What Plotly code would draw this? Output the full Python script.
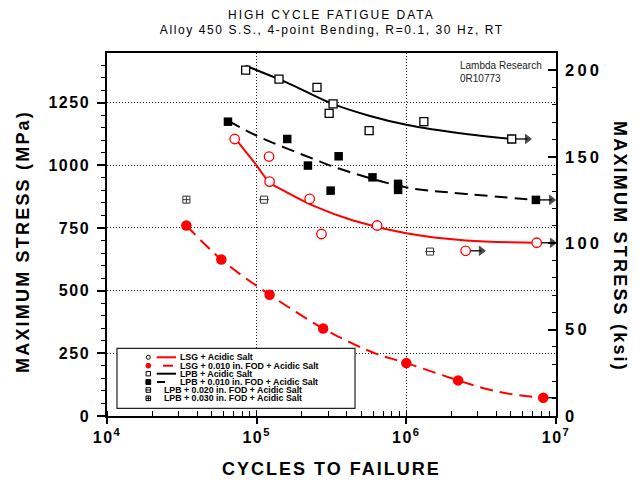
import numpy as np
import plotly.graph_objects as go

# ---------------- data ----------------
MPA_PER_KSI = 6.895
Y_MAX_MPA = 1448
RUNOUT_FACTOR = 10 ** 0.105   # arrow length on the log axis (style)

# LSG + Acidic Salt (open red circles)
lsg_n = [71.3e3, 121e3, 122e3, 226e3, 271e3, 638e3, 2.49e6, 7.43e6]
lsg_s = [1105, 1035, 935, 866, 726, 760, 659, 691]
lsg_runout = [0, 0, 0, 0, 0, 0, 1, 1]
lsg_fit_n = [71.3e3, 100e3, 122e3, 158e3, 238e3, 441e3, 1.0e6, 2.5e6, 7.43e6]
lsg_fit_s = [1109, 999, 932, 893, 839, 780, 729, 700, 691]

# LSG + 0.010 in. FOD + Acidic Salt (filled red circles)
lsgf_n = [33.9e3, 58.1e3, 122e3, 278e3, 1.0e6, 2.22e6, 8.22e6]
lsgf_s = [760, 624, 484, 349, 211, 142, 73]
lsgf_runout = [0, 0, 0, 0, 0, 0, 1]
lsgf_fit_n = [33.9e3, 58.1e3, 122e3, 278e3, 441e3, 631e3, 1.0e6, 2.22e6, 3.44e6, 5.18e6, 8.22e6]
lsgf_fit_s = [760, 624, 484, 349, 288, 248, 211, 142, 108, 86, 73]

# LPB + Acidic Salt (open black squares)
lpb_n = [84.4e3, 141e3, 253e3, 324e3, 305e3, 564e3, 1.31e6, 5.06e6]
lpb_s = [1380, 1344, 1311, 1245, 1207, 1138, 1174, 1105]
lpb_runout = [0, 0, 0, 0, 0, 0, 0, 1]
lpb_fit_n = [84.4e3, 158e3, 322e3, 564e3, 1.0e6, 2.5e6, 5.06e6]
lpb_fit_s = [1397, 1331, 1245, 1198, 1162, 1125, 1105]

# LPB + 0.010 in. FOD + Acidic Salt (filled black squares)
lpbf_n = [64.3e3, 160e3, 220e3, 353e3, 594e3, 881e3, 881e3, 312e3, 7.34e6]
lpbf_s = [1174, 1105, 999, 1036, 952, 926, 902, 899, 862]
lpbf_runout = [0, 0, 0, 0, 0, 0, 0, 0, 1]
lpbf_fit_n = [64.3e3, 100e3, 238e3, 359e3, 1.0e6, 2.5e6, 7.34e6]
lpbf_fit_s = [1178, 1118, 1026, 986, 912, 886, 862]

# LPB + 0.020 in. FOD + Acidic Salt
lpb20_n = [112e3, 1.44e6]
lpb20_s = [863, 656]

# LPB + 0.030 in. FOD + Acidic Salt
lpb30_n = [33.9e3]
lpb30_s = [863]

x_tick_vals = [1e4, 1e5, 1e6, 1e7]
x_tick_text = ["10<sup>4</sup>", "10<sup>5</sup>", "10<sup>6</sup>", "10<sup>7</sup>"]
y_tick_vals = [0, 250, 500, 750, 1000, 1250]
y2_tick_vals = [0, 50, 100, 150, 200]

legend_labels = [
    "LSG + Acidic Salt",
    "LSG + 0.010 in. FOD + Acidic Salt",
    "LPB + Acidic Salt",
    "LPB + 0.010 in. FOD + Acidic Salt",
    "LPB + 0.020 in. FOD + Acidic Salt",
    "LPB + 0.030 in. FOD + Acidic Salt",
]

RED = "#ff0000"
BLACK = "#000000"
FONT = 'Arial, "Liberation Sans", sans-serif'

fig = go.Figure()


def add_curve(n, s, color, dash):
    fig.add_trace(go.Scatter(
        x=n, y=s, mode="lines", showlegend=False, hoverinfo="skip",
        line=dict(color=color, width=2, dash=dash, shape="spline", smoothing=1.0)))


add_curve(lsg_fit_n, lsg_fit_s, RED, "solid")
add_curve(lsgf_fit_n, lsgf_fit_s, RED, "13px,7px")
add_curve(lpb_fit_n, lpb_fit_s, BLACK, "solid")
add_curve(lpbf_fit_n, lpbf_fit_s, BLACK, "13px,7px")

# runout arrows (drawn before markers so markers sit on top)
for n_arr, s_arr, flags in [(lsg_n, lsg_s, lsg_runout), (lsgf_n, lsgf_s, lsgf_runout),
                            (lpb_n, lpb_s, lpb_runout), (lpbf_n, lpbf_s, lpbf_runout)]:
    for n, s, f in zip(n_arr, s_arr, flags):
        if f:
            fig.add_trace(go.Scatter(
                x=[n, n * RUNOUT_FACTOR], y=[s, s], mode="lines+markers",
                showlegend=False, hoverinfo="skip",
                line=dict(color="black", width=1.3),
                marker=dict(symbol=["circle", "triangle-right"], size=[0, 8],
                            color="black", line=dict(color="black", width=1))))


def add_points(n, s, symbol, size, fill, line_color, lw=1.2):
    fig.add_trace(go.Scatter(
        x=n, y=s, mode="markers", showlegend=False,
        marker=dict(symbol=symbol, size=size, color=fill,
                    line=dict(color=line_color, width=lw))))


add_points(lsg_n, lsg_s, "circle", 9.5, "white", RED, 1.3)
add_points(lsgf_n, lsgf_s, "circle", 10.5, RED, RED, 0)
add_points(lpb_n, lpb_s, "square", 8, "white", BLACK, 1.3)
add_points(lpbf_n, lpbf_s, "square", 8.5, BLACK, BLACK, 0)
add_points(lpb20_n, lpb20_s, "square", 7, "white", "#333333", 1.0)
add_points(lpb20_n, lpb20_s, "line-ew", 7, "white", "#333333", 1.0)
add_points(lpb30_n, lpb30_s, "square-cross-open", 7, "#333333", "#333333", 1.0)

# dummy trace so the right (ksi) axis is created
fig.add_trace(go.Scatter(x=[None], y=[None], yaxis="y2", showlegend=False, hoverinfo="skip"))

# plot-area geometry (pixels) for positioning texts / legend box
L, R, T, B = 107, 556, 53, 416
W, H = R - L, B - T


def px(xp):
    return (xp - L) / W


def py(yp):
    return (B - yp) / H


annotations = [
    dict(text="HIGH CYCLE FATIGUE DATA", xref="paper", yref="paper", x=0.5, y=py(15),
         xanchor="center", yanchor="middle", showarrow=False,
         font=dict(family=FONT, size=12, color="black")),
    dict(text="Alloy 450 S.S., 4-point Bending, R=0.1, 30 Hz, RT", xref="paper", yref="paper",
         x=0.5, y=py(30), xanchor="center", yanchor="middle", showarrow=False,
         font=dict(family=FONT, size=12, color="black")),
    dict(text="CYCLES TO FAILURE", xref="paper", yref="paper", x=px(331), y=py(469),
         xanchor="center", yanchor="middle", showarrow=False,
         font=dict(family=FONT, size=18, color="black", weight="bold")),
    dict(text="MAXIMUM STRESS (MPa)", xref="paper", yref="paper", x=px(23), y=py(242),
         xanchor="center", yanchor="middle", showarrow=False, textangle=-90,
         font=dict(family=FONT, size=18, color="black", weight="bold")),
    dict(text="MAXIMUM STRESS (ksi)", xref="paper", yref="paper", x=px(620), y=py(246),
         xanchor="center", yanchor="middle", showarrow=False, textangle=90,
         font=dict(family=FONT, size=18, color="black", weight="bold")),
    dict(text="Lambda Research<br>0R10773", xref="paper", yref="paper", x=px(458), y=py(58),
         xanchor="left", yanchor="top", align="left", showarrow=False,
         font=dict(family=FONT, size=10, color="#222222")),
]

# custom legend
shapes = []
shapes.append(dict(type="rect", xref="paper", yref="paper", x0=px(117), x1=px(355),
                   y0=py(408.3), y1=py(348.3), line=dict(color="#222222", width=1.2),
                   fillcolor="white", layer="above"))
rows_y = [357.3, 365.7, 373.7, 382.0, 390.0, 398.3]
mx = 148.3


def circ(cx, cy, r, fill, color):
    return dict(type="circle", xref="paper", yref="paper", x0=px(cx - r), x1=px(cx + r),
                y0=py(cy + r), y1=py(cy - r), line=dict(color=color, width=1),
                fillcolor=fill, layer="above")


def sq(cx, cy, r, fill, color):
    return dict(type="rect", xref="paper", yref="paper", x0=px(cx - r), x1=px(cx + r),
                y0=py(cy + r), y1=py(cy - r), line=dict(color=color, width=1),
                fillcolor=fill, layer="above")


def seg(x0, x1, y0, y1, color, w=2):
    return dict(type="line", xref="paper", yref="paper", x0=px(x0), x1=px(x1),
                y0=py(y0), y1=py(y1), line=dict(color=color, width=w), layer="above")


shapes.append(circ(mx, rows_y[0], 2.0, "white", "black"))
shapes.append(seg(156.7, 176, rows_y[0], rows_y[0], RED))
shapes.append(circ(mx, rows_y[1], 2.4, RED, RED))
shapes.append(seg(163, 173, rows_y[1], rows_y[1], RED))
shapes.append(sq(mx, rows_y[2], 2.2, "white", "black"))
shapes.append(seg(156.7, 176, rows_y[2], rows_y[2], BLACK))
shapes.append(sq(mx, rows_y[3], 2.4, "black", "black"))
shapes.append(seg(157, 165, rows_y[3], rows_y[3], BLACK))
shapes.append(sq(mx, rows_y[4], 2.3, "white", "black"))
shapes.append(seg(mx - 2.3, mx + 2.3, rows_y[4], rows_y[4], BLACK, 1))
shapes.append(sq(mx, rows_y[5], 2.3, "white", "black"))
shapes.append(seg(mx - 2.3, mx + 2.3, rows_y[5], rows_y[5], BLACK, 1))
shapes.append(seg(mx, mx, rows_y[5] - 2.3, rows_y[5] + 2.3, BLACK, 1))

text_x = [178.3, 178.3, 178.3, 178.3, 161.7, 161.7]
for lbl, tx, ty in zip(legend_labels, text_x, rows_y):
    annotations.append(dict(text=lbl, xref="paper", yref="paper", x=px(tx), y=py(ty),
                            xanchor="left", yanchor="middle", showarrow=False,
                            font=dict(family=FONT, size=8.8, color="black", weight="bold")))

grid = dict(showgrid=True, gridcolor="#222222", gridwidth=1, griddash="1px,2px")

fig.update_layout(
    width=642, height=480,
    margin=dict(l=L, r=642 - R, t=T, b=480 - B),
    paper_bgcolor="white", plot_bgcolor="white",
    showlegend=False,
    font=dict(family=FONT, color="black"),
    xaxis=dict(type="log", range=[4, 7], tickmode="array", tickvals=x_tick_vals,
               ticktext=x_tick_text, ticks="outside", ticklen=6, tickwidth=1.5,
               tickcolor="black", showline=True, linecolor="black", linewidth=1.5,
               mirror=True, zeroline=False,
               minor=dict(ticks="inside", dtick="D1", ticklen=5, tickwidth=1,
                          tickcolor="black", showgrid=False),
               tickfont=dict(family=FONT, size=16, color="black", weight="bold"),
               **grid),
    yaxis=dict(range=[0, Y_MAX_MPA], tickmode="array", tickvals=y_tick_vals,
               ticks="outside", ticklen=8, tickwidth=1.5, tickcolor="black",
               showline=True, linecolor="black", linewidth=1.5, zeroline=False,
               minor=dict(ticks="outside", dtick=50, ticklen=4, tickwidth=1,
                          tickcolor="black", showgrid=False),
               tickfont=dict(family=FONT, size=16, color="black", weight="bold"),
               ticklabelstandoff=4,
               **grid),
    yaxis2=dict(range=[0, Y_MAX_MPA / MPA_PER_KSI], overlaying="y", side="right",
                tickmode="array", tickvals=y2_tick_vals, ticks="inside", ticklen=8,
                tickwidth=1.5, tickcolor="black", showline=True, linecolor="black",
                linewidth=1.5, zeroline=False, showgrid=False,
                minor=dict(ticks="inside", dtick=10, ticklen=4, tickwidth=1,
                           tickcolor="black", showgrid=False),
                tickfont=dict(family=FONT, size=16.5, color="black", weight="bold"),
                ticklabelstandoff=4),
    annotations=annotations,
    shapes=shapes,
)

post = """
document.body.style.margin = '0';
document.body.style.padding = '0';
var gd = document.getElementById('{plot_id}');
var sp = {'HIGH CYCLE FATIGUE DATA': '2px',
          'Alloy 450 S.S., 4-point Bending, R=0.1, 30 Hz, RT': '1.6px',
          'CYCLES TO FAILURE': '2px',
          'MAXIMUM STRESS (MPa)': '2.2px',
          'MAXIMUM STRESS (ksi)': '2.2px'};
gd.querySelectorAll('text.annotation-text').forEach(function(t){
  var k = t.textContent;
  if (sp[k]) { t.style.letterSpacing = sp[k]; }
});
gd.querySelectorAll('.xtick text, .ytick text').forEach(function(t){ t.style.letterSpacing = '1.5px'; });
gd.querySelectorAll('.y2tick text').forEach(function(t){ t.style.letterSpacing = '3.2px'; });
"""

fig.write_html("out.html", post_script=post, config={"displayModeBar": False})
